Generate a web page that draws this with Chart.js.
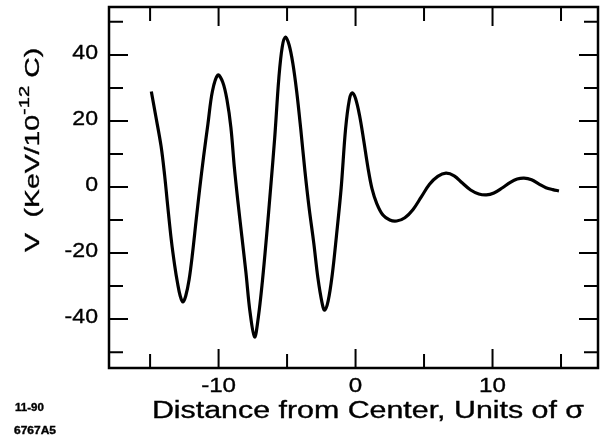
<!DOCTYPE html>
<html>
<head>
<meta charset="utf-8">
<script src="https://cdn.jsdelivr.net/npm/chart.js@4.4.1/dist/chart.umd.min.js"></script>
<style>
  html, body { margin:0; padding:0; background:#fff; }
  #wrap { width:603px; height:442px; }
</style>
</head>
<body>
<div id="wrap"><canvas id="c" width="603" height="442"></canvas></div>
<script>
// wake potential vs distance
const distance = [-14.91,-14.60,-14.20,-13.94,-13.72,-13.45,-13.21,-13.00,-12.80,-12.61,
  -12.40,-12.15,-11.90,-11.65,-11.39,-11.10,-10.78,-10.45,-10.05,-9.70,-9.39,-9.10,-8.85,-8.60,
  -8.30,-8.00,-7.70,-7.37,-7.10,-6.80,-6.50,-6.20,-5.90,-5.60,-5.35,-5.11,-4.85,-4.58,-4.30,
  -4.00,-3.70,-3.40,-3.05,-2.75,-2.45,-2.26,-2.00,-1.70,-1.40,-1.05,-0.73,-0.45,-0.24,0.00,
  0.30,0.60,0.90,1.20,1.55,2.00,2.50,3.00,3.60,4.20,4.80,5.40,6.00,6.60,7.20,7.80,8.40,9.00,
  9.55,10.10,10.70,11.30,11.80,12.30,12.85,13.40,13.90,14.40,14.85];
const voltage = [28.9,21.8,12.4,3.6,-5.5,-16.1,-23.6,-29.0,-33.0,-34.8,
  -33.0,-28.0,-20.0,-10.5,-0.9,9.0,19.0,29.0,33.9,31.8,26.5,18.0,6.0,-4.0,
  -15.0,-26.0,-38.0,-45.4,-39.5,-28.5,-15.0,-0.3,15.0,33.0,42.5,45.4,43.0,37.5,29.0,
  17.5,5.0,-6.0,-17.0,-27.5,-35.0,-37.3,-34.5,-26.5,-15.0,-0.3,17.5,26.5,28.5,26.8,
  21.5,14.0,6.0,-0.5,-5.0,-8.5,-10.0,-10.3,-9.3,-6.8,-3.0,0.8,3.2,4.2,3.4,1.2,-0.9,-2.1,
  -2.4,-1.8,-0.3,1.4,2.4,2.7,2.2,0.9,-0.2,-0.8,-1.2];

const xMajor = [-10, 0, 10];
const xMinor = [-15, -5, 5, 15];
const yMajor = [-40, -20, 0, 20, 40];
const yMinor = [-50, -30, -10, 10, 30, 50];

const FONT = '"Liberation Sans", Arial, Helvetica, sans-serif';

// the scan uses a wide grotesque; stretch text horizontally and thicken a little
function wideText(ctx, str, x, y, font, sx, align) {
  ctx.save();
  ctx.font = font;
  ctx.textAlign = 'left';
  ctx.textBaseline = 'middle';
  const w = ctx.measureText(str).width * sx;
  const x0 = align === 'center' ? x - w / 2 : align === 'right' ? x - w : x;
  ctx.translate(x0, y);
  ctx.scale(sx, 1);
  ctx.lineWidth = 0.35;
  ctx.strokeText(str, 0, 0);
  ctx.fillText(str, 0, 0);
  ctx.restore();
}

const decor = {
  id: 'decor',
  afterDraw(chart) {
    const {ctx, chartArea: a, scales: {x, y}} = chart;
    ctx.save();
    ctx.strokeStyle = '#000';
    ctx.fillStyle = '#000';
    ctx.lineCap = 'butt';
    ctx.lineWidth = 2;
    const tick = (vals, len, horiz) => {
      vals.forEach(v => {
        ctx.beginPath();
        if (horiz) {
          const px = x.getPixelForValue(v);
          ctx.moveTo(px, a.bottom); ctx.lineTo(px, a.bottom - len);
          ctx.moveTo(px, a.top); ctx.lineTo(px, a.top + len);
        } else {
          const py = y.getPixelForValue(v);
          ctx.moveTo(a.left, py); ctx.lineTo(a.left + len, py);
          ctx.moveTo(a.right, py); ctx.lineTo(a.right - len, py);
        }
        ctx.stroke();
      });
    };
    tick(xMajor, 19, true); tick(xMinor, 14, true);
    tick(yMajor, 19, false); tick(yMinor, 14, false);
    ctx.lineWidth = 2.5;
    ctx.strokeRect(a.left, a.top, a.right - a.left, a.bottom - a.top);

    // tick labels
    yMajor.forEach(v => wideText(ctx, String(v), a.left - 11, y.getPixelForValue(v) - 2, '21px ' + FONT, 1.1, 'right'));
    xMajor.forEach(v => wideText(ctx, String(v), x.getPixelForValue(v), 386, '21px ' + FONT, 1.15, 'center'));

    // x title
    wideText(ctx, 'Distance from Center, Units of \u03c3', 368, 412, '23px ' + FONT, 1.32, 'center');

    // y title with superscript, rotated
    ctx.save();
    ctx.translate(33, 150);
    ctx.rotate(-Math.PI / 2);
    const sx = 1.35;
    const big = '21px ' + FONT, small = '15px ' + FONT;
    const parts = [['V', big, 0], ['  (KeV/10', big, 0], ['-12', small, -8], [' C)', big, 0]];
    let total = 0;
    parts.forEach(p => { ctx.font = p[1]; total += ctx.measureText(p[0]).width * sx; });
    let cx = -total / 2;
    parts.forEach(p => {
      wideText(ctx, p[0], cx, p[2], p[1], sx, 'left');
      ctx.font = p[1];
      cx += ctx.measureText(p[0]).width * sx;
    });
    ctx.restore();

    // figure stamp
    wideText(ctx, '11-90', 15, 408, 'bold 10px ' + FONT, 1.15, 'left');
    wideText(ctx, '6767A5', 14, 431, 'bold 10px ' + FONT, 1.2, 'left');
    ctx.restore();
  }
};

new Chart(document.getElementById('c'), {
  type: 'line',
  data: {
    datasets: [{
      data: distance.map((d, i) => ({x: d, y: voltage[i]})),
      borderColor: '#000',
      borderWidth: 3.2,
      pointRadius: 0,
      fill: false,
      tension: 0.35
    }]
  },
  options: {
    responsive: false,
    animation: false,
    devicePixelRatio: 1,
    layout: { padding: { top: 7, right: 5, left: 0, bottom: 0 } },
    plugins: { legend: { display: false }, tooltip: { enabled: false } },
    scales: {
      x: {
        type: 'linear', min: -18, max: 17.7,
        grid: { display: false }, border: { display: false },
        afterBuildTicks: s => { s.ticks = xMajor.map(v => ({value: v})); },
        afterFit: s => { s.height = 74; },
        ticks: { display: false }
      },
      y: {
        min: -54.8, max: 54.5,
        grid: { display: false }, border: { display: false },
        afterBuildTicks: s => { s.ticks = yMajor.map(v => ({value: v})); },
        afterFit: s => { s.width = 109; },
        ticks: { display: false }
      }
    }
  },
  plugins: [decor]
});
</script>
</body>
</html>
